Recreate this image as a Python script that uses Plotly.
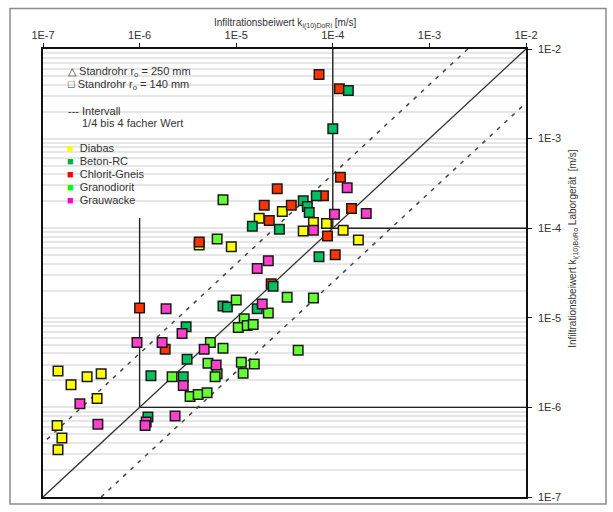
import plotly.graph_objects as go

# ---------------- data ----------------
diabas_x = [3.0e-5, 1.73e-5, 6.3e-5, 8.6e-5, 4.94e-5, 1.28e-4, 1.84e-4, 8.9e-6, 4.14e-6,
            1.43e-7, 2.86e-7, 4.0e-7, 1.95e-7, 3.63e-7, 1.4e-7, 1.57e-7, 1.43e-7]
diabas_y = [1.54e-4, 1.29e-4, 1.16e-4, 1.13e-4, 9.3e-5, 9.5e-5, 7.4e-5, 6.2e-5, 6.5e-5,
            2.55e-6, 2.2e-6, 2.37e-6, 1.79e-6, 1.26e-6, 6.3e-7, 4.56e-7, 3.37e-7]

chlorit_x = [7.2e-5, 1.17e-4, 1.2e-4, 2.66e-5, 8.0e-5, 1.95e-5, 3.72e-5, 1.56e-4, 2.2e-5,
             8.8e-5, 1.06e-4, 4.14e-6, 1.0e-6, 2.3e-5, 1.84e-6]
chlorit_y = [5.2e-3, 3.6e-3, 3.7e-4, 2.75e-4, 2.3e-4, 1.8e-4, 1.8e-4, 1.66e-4, 1.22e-4,
             8.2e-5, 5.05e-5, 7.0e-5, 1.29e-5, 2.4e-5, 4.45e-6]

beton_x = [1.45e-4, 1.0e-4, 6.75e-5, 4.94e-5, 5.45e-5, 5.7e-5, 1.47e-5, 2.8e-5, 7.2e-5,
           2.41e-5, 7.3e-6, 8.1e-6, 1.65e-5, 3.03e-6, 3.1e-6, 1.31e-6, 2.83e-6, 1.22e-6]
beton_y = [3.45e-3, 1.29e-3, 2.3e-4, 2.03e-4, 1.75e-4, 1.5e-4, 1.05e-4, 9.75e-5, 4.8e-5,
           2.25e-5, 1.35e-5, 1.32e-5, 1.26e-5, 7.96e-6, 3.45e-6, 2.25e-6, 2.2e-6, 7.8e-7]

grano_x = [7.3e-6, 6.35e-6, 3.37e-5, 6.3e-5, 1.0e-5, 2.15e-5, 1.21e-5, 1.05e-5, 1.3e-5,
           1.5e-5, 5.4e-6, 7.3e-6, 4.38e-5, 5.1e-6, 6.35e-6, 6.05e-6, 1.13e-5, 1.54e-5,
           1.18e-5, 2.17e-6, 3.33e-6, 4.04e-6, 5.0e-6]
grano_y = [2.08e-4, 7.6e-5, 1.7e-5, 1.66e-5, 1.58e-5, 1.13e-5, 9.75e-6, 7.8e-6, 8.2e-6,
           8.4e-6, 5.3e-6, 4.56e-6, 4.34e-6, 3.1e-6, 2.37e-6, 2.2e-6, 3.2e-6, 3.05e-6,
           2.4e-6, 2.2e-6, 1.32e-6, 1.39e-6, 1.46e-6]

grau_x = [1.41e-4, 1.04e-4, 2.22e-4, 6.3e-5, 2.15e-5, 1.65e-5, 1.86e-5, 1.88e-6, 2.75e-6,
          9.4e-7, 1.71e-6, 4.66e-6, 6.2e-6, 2.83e-6, 2.41e-7, 3.7e-7, 1.17e-6, 1.14e-6, 2.33e-6]
grau_y = [2.82e-4, 1.43e-4, 1.46e-4, 9.5e-5, 4.34e-5, 3.54e-5, 1.43e-5, 1.26e-5, 6.7e-6,
          5.3e-6, 5.3e-6, 4.45e-6, 2.97e-6, 1.75e-6, 1.1e-6, 6.5e-7, 6.85e-7, 6.3e-7, 8.0e-7]

# reference lines
diag_x = [1e-7, 1e-2]
diag_y = [1e-7, 1e-2]
upper_x = [1.1e-7, 2.5e-3]
upper_y = [4.4e-7, 1e-2]
lower_x = [4e-7, 1e-2]
lower_y = [1e-7, 2.5e-3]
frame_x = [1e-6, 1e-6, None, 1e-4, 1e-4, None, 1e-4, 1e-2, None, 1e-6, 1e-2]
frame_y = [1e-6, 1.3e-4, None, 1e-4, 1e-2, None, 1e-4, 1e-4, None, 1e-6, 1e-6]

tick_vals = [1e-7, 1e-6, 1e-5, 1e-4, 1e-3, 1e-2]
tick_text = ["1E-7", "1E-6", "1E-5", "1E-4", "1E-3", "1E-2"]

series = [
    ("Diabas", diabas_x, diabas_y, "#FFFF00"),
    ("Chlorit-Gneis", chlorit_x, chlorit_y, "#FF3300"),
    ("Beton-RC", beton_x, beton_y, "#00C060"),
    ("Granodiorit", grano_x, grano_y, "#66FF33"),
    ("Grauwacke", grau_x, grau_y, "#FF40CC"),
]
legend_items = [("Diabas", "#FFFF00"), ("Beton-RC", "#00B050"), ("Chlorit-Gneis", "#FF0000"),
                ("Granodiorit", "#00FF00"), ("Grauwacke", "#FF00CC")]

# ---------------- layout geometry ----------------
W, H = 613, 512
L, R, T, B = 43, 87, 49, 9
pw, ph = W - L - R, H - T - B


def pxx(x):
    return (x - L) / pw


def pxy(y):
    return (H - B - y) / ph


FONT = "Liberation Sans, Arial, sans-serif"
TXT = "#333333"

fig = go.Figure()

line_style = dict(color="#222222", width=1.4)
fig.add_trace(go.Scatter(x=frame_x, y=frame_y, mode="lines", line=line_style,
                         hoverinfo="skip", showlegend=False))
fig.add_trace(go.Scatter(x=diag_x, y=diag_y, mode="lines", line=dict(color="#333333", width=1.3),
                         hoverinfo="skip", showlegend=False))
for lx, ly in [(upper_x, upper_y), (lower_x, lower_y)]:
    fig.add_trace(go.Scatter(x=lx, y=ly, mode="lines",
                             line=dict(color="#444444", width=1.5, dash="4px,6px"),
                             hoverinfo="skip", showlegend=False))

for name, xs, ys, col in series:
    fig.add_trace(go.Scatter(x=xs, y=ys, mode="markers", name=name, showlegend=False,
                             marker=dict(symbol="square", size=9.5, color=col,
                                         line=dict(color="#1a1a1a", width=1.5))))

axis_common = dict(type="log", range=[-7, -2], tickvals=tick_vals, ticktext=tick_text,
                   showline=True, linecolor="#111111", linewidth=1.5, mirror=True,
                   ticks="outside", ticklen=4, tickcolor="#111111", tickwidth=1.3,
                   tickfont=dict(family=FONT, size=11, color=TXT), zeroline=False)

fig.update_xaxes(**axis_common, side="top", showgrid=False)
fig.update_yaxes(**axis_common, side="right", showgrid=True, gridcolor="#e6e6e6", gridwidth=1.5,
                 ticklabelstandoff=4,
                 minor=dict(dtick="D1", showgrid=True, gridcolor="#e6e6e6", gridwidth=1.5, ticks=""))

annotations = []
annotations.append(dict(x=pxx(285), y=pxy(15), xref="paper", yref="paper", showarrow=False,
                        text="Infiltrationsbeiwert k<sub>i(10)DoRi</sub> [m/s]",
                        font=dict(family=FONT, size=10, color=TXT)))
annotations.append(dict(x=pxx(582), y=pxy(252), xref="paper", yref="paper", showarrow=False,
                        textangle=-90,
                        text="Infiltrationsbeiwert k<sub>i(10)BoRo</sub> Laborgerät  [m/s]",
                        font=dict(family=FONT, size=10, color=TXT)))

leg_font = dict(family=FONT, size=11, color=TXT)
leg_rows = [
    (66, 72, "△ Standrohr r<sub>o</sub> = 250 mm"),
    (66, 85, "□ Standrohr r<sub>o</sub> = 140 mm"),
    (66, 112, "--- Intervall"),
    (80, 124, "1/4 bis 4 facher Wert"),
]
for lx, ly, txt in leg_rows:
    annotations.append(dict(x=pxx(lx), y=pxy(ly), xref="paper", yref="paper", showarrow=False,
                            xanchor="left", yanchor="middle", text=txt, font=leg_font))
for i, (nm, col) in enumerate(legend_items):
    ly = 149 + i * 13.2
    annotations.append(dict(x=pxx(65), y=pxy(ly), xref="paper", yref="paper", showarrow=False,
                            xanchor="left", yanchor="middle",
                            text=f"<span style='color:{col}'>■</span>  {nm}", font=leg_font))

shapes = [
    # white backdrop for the legend
    dict(type="rect", xref="paper", yref="paper", x0=pxx(44), x1=pxx(197), y0=pxy(207), y1=pxy(50),
         fillcolor="white", line=dict(width=0), layer="between"),
    # outer frame
    dict(type="rect", xref="paper", yref="paper", x0=pxx(10), x1=pxx(606), y0=pxy(510), y1=pxy(8),
         line=dict(color="#8c8c8c", width=1.5), fillcolor="rgba(0,0,0,0)", layer="above"),
]

fig.update_layout(width=W, height=H, margin=dict(l=L, r=R, t=T, b=B),
                  paper_bgcolor="white", plot_bgcolor="white",
                  annotations=annotations, shapes=shapes, showlegend=False)

fig.write_html("out.html")
